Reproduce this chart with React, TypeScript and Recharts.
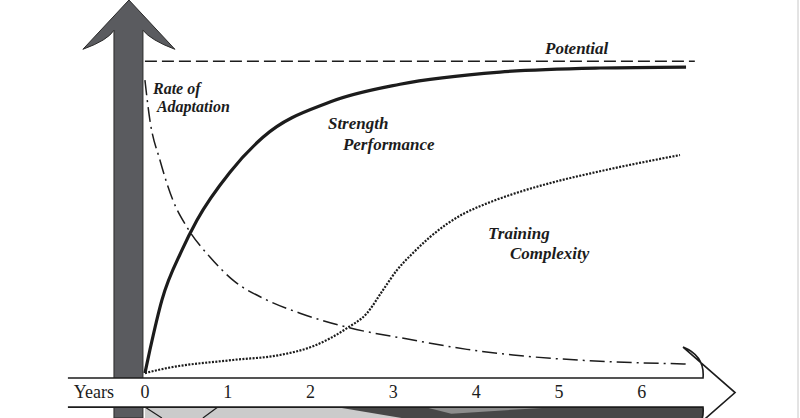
import { LineChart, Line, XAxis, YAxis, ReferenceArea, ReferenceDot, ReferenceLine } from "recharts"

// years shown on the axis
const years = [0, 1, 2, 3, 4, 5, 6]

const strengthYears = [0, 0.06, 0.205, 0.447, 0.628, 1.027, 1.425, 2.234, 3.08, 4.288, 5.495, 6.534]
const strengthValues = [0, 7.4, 23.4, 39.4, 49.0, 64.4, 75.6, 86.9, 92.6, 96.5, 97.8, 98.1]

const adaptationYears = [0, 0.06, 0.181, 0.338, 0.507, 0.785, 1.063, 1.473, 1.872, 2.44, 3.237, 3.889, 4.444, 5.495, 6.582]
const adaptationValues = [93.9, 81.1, 68.3, 55.4, 46.8, 37.2, 29.8, 23.4, 19.2, 14.7, 10.6, 7.6, 5.8, 3.8, 2.9]

const complexityYears = [0, 0.266, 1.063, 1.63, 2.029, 2.44, 2.681, 2.874, 3.043, 3.237, 3.442, 3.647, 3.841, 4.046, 4.444, 4.891, 5.495, 6.461]
const complexityValues = [0, 1.6, 4.2, 5.8, 8.6, 14.4, 19.2, 26.6, 33.0, 38.5, 43.6, 47.8, 51.0, 53.5, 57.4, 60.9, 64.7, 69.9]

const potentialYears = [0, 6.64]
const potentialValues = [100, 100]

const curveLabels = [
  { text: "Potential", x: 4.831, y: 102.2, size: 17 },
  { text: "Rate of", x: 0.097, y: 89.4, size: 16 },
  { text: "Adaptation", x: 0.145, y: 83.7, size: 16 },
  { text: "Strength", x: 2.21, y: 78.2, size: 17 },
  { text: "Performance", x: 2.391, y: 71.5, size: 17 },
  { text: "Training", x: 4.143, y: 42.9, size: 17 },
  { text: "Complexity", x: 4.408, y: 36.5, size: 17 },
]

const toRows = (xs: number[], ys: number[]) => xs.map((x, i) => ({ x, y: ys[i] }))

const X_DOMAIN: [number, number] = [-1.75, 7.91]
const Y_DOMAIN: [number, number] = [-14.4, 119.6]
const INK = "#1c1c1c"
const SERIF = '"Liberation Serif", "Times New Roman", serif'

type Box = { x: number; y: number; width: number; height: number }
type Frame = { x1: number; x2: number; y1: number; y2: number }

// data units -> pixels, using the box that recharts gives a reference area
function mapper(box: Box, f: Frame) {
  const sx = (v: number) => box.x + ((v - f.x1) / (f.x2 - f.x1)) * box.width
  const sy = (v: number) => box.y + ((f.y2 - v) / (f.y2 - f.y1)) * box.height
  const pt = (x: number, y: number) => `${sx(x)},${sy(y)}`
  return { sx, sy, pt }
}

const arrowFrame: Frame = { x1: -0.75, x2: 0.37, y1: -14.4, y2: 119.6 }
const bandFrame: Frame = { x1: -0.95, x2: 7.2, y1: -14.4, y2: 9 }
const stripFrame: Frame = { x1: 0, x2: 6.739, y1: -14.4, y2: -10.9 }

function VerticalArrow(props: any) {
  const { pt: p } = mapper(props, arrowFrame)
  const d = `M${p(-0.374, -14.4)} L${p(-0.374, 109.9)} Q${p(-0.447, 106.7)} ${p(-0.749, 103.8)}
    L${p(-0.193, 119.6)} L${p(0.362, 103.8)} Q${p(0.072, 106.7)} ${p(-0.024, 109.9)} L${p(-0.024, -14.4)} Z`
  return <path d={d} fill="#5a5b5f" stroke="#2a2a2a" strokeWidth={1} />
}

function YearsBand(props: any) {
  const { pt: p } = mapper(props, bandFrame)
  const d = `M${p(-0.93, -1.6)} L${p(6.739, -1.6)} Q${p(6.763, 5.45)} ${p(6.498, 8.33)}
    L${p(7.126, -6.25)} L${p(6.498, -20.83)} Q${p(6.763, -17.95)} ${p(6.739, -10.9)} L${p(-0.93, -10.9)}`
  return <path d={d} fill="#ffffff" stroke={INK} strokeWidth={1.6} />
}

function BottomStrip(props: any) {
  const { sx, sy, pt: p } = mapper(props, stripFrame)
  return (
    <g>
      <polygon points={`${p(0, -10.9)} ${p(6.739, -10.9)} ${p(6.739, -14.4)} ${p(0, -14.4)}`} fill="#cbcbcb" />
      <polygon points={`${p(2.36, -11.1)} ${p(6.739, -10.9)} ${p(6.739, -14.4)} ${p(3.1, -14.4)}`} fill="#474747" />
      <polygon points={`${p(3.4, -11.05)} ${p(4.9, -11.0)} ${p(3.7, -13.0)}`} fill="#8d8d8d" />
      <line x1={sx(0)} y1={sy(-10.9)} x2={sx(0.205)} y2={sy(-14.4)} stroke={INK} strokeWidth={1.2} />
      <line x1={sx(0.88)} y1={sy(-10.9)} x2={sx(0.7)} y2={sy(-14.4)} stroke={INK} strokeWidth={1.2} />
    </g>
  )
}

export default function App() {
  return (
    <div style={{ position: "fixed", left: 0, top: 0, width: 800, height: 418, background: "#fff" }}>
      <LineChart width={800} height={418} margin={{ top: 0, right: 0, bottom: 0, left: 0 }}>
        <XAxis dataKey="x" type="number" domain={X_DOMAIN} allowDataOverflow hide />
        <YAxis type="number" domain={Y_DOMAIN} allowDataOverflow hide />

        <ReferenceArea {...arrowFrame} ifOverflow="visible" shape={VerticalArrow} />
        <ReferenceArea {...stripFrame} ifOverflow="visible" shape={BottomStrip} />
        <ReferenceArea {...bandFrame} ifOverflow="visible" shape={YearsBand} />
        <ReferenceLine x={7.886} stroke="#c8c8c8" strokeWidth={1} />

        <Line data={toRows(potentialYears, potentialValues)} dataKey="y" type="linear" stroke={INK}
          strokeWidth={1.5} strokeDasharray="12 5" dot={false} activeDot={false} isAnimationActive={false} />
        <Line data={toRows(strengthYears, strengthValues)} dataKey="y" type="monotone" stroke={INK}
          strokeWidth={3.2} dot={false} activeDot={false} isAnimationActive={false} />
        <Line data={toRows(adaptationYears, adaptationValues)} dataKey="y" type="monotone" stroke={INK}
          strokeWidth={1.5} strokeDasharray="15 5 2 5" dot={false} activeDot={false} isAnimationActive={false} />
        <Line data={toRows(complexityYears, complexityValues)} dataKey="y" type="monotone" stroke={INK}
          strokeWidth={2.2} strokeDasharray="2 1.4" dot={false} activeDot={false} isAnimationActive={false} />

        {curveLabels.map((l) => (
          <ReferenceDot key={l.text} x={l.x} y={l.y} r={0}
            shape={(p: any) => (
              <text x={p.cx} y={p.cy} fill={INK} fontFamily={SERIF} fontSize={l.size}
                fontStyle="italic" fontWeight="bold">{l.text}</text>
            )} />
        ))}

        {years.map((yr) => (
          <ReferenceDot key={yr} x={yr} y={-8.0} r={0}
            shape={(p: any) => (
              <text x={p.cx} y={p.cy} fill={INK} fontFamily={SERIF} fontSize={18} textAnchor="middle">{yr}</text>
            )} />
        ))}
        <ReferenceDot x={-0.616} y={-8.0} r={0}
          shape={(p: any) => (
            <text x={p.cx} y={p.cy} fill={INK} fontFamily={SERIF} fontSize={18} textAnchor="middle">Years</text>
          )} />
      </LineChart>
    </div>
  )
}
